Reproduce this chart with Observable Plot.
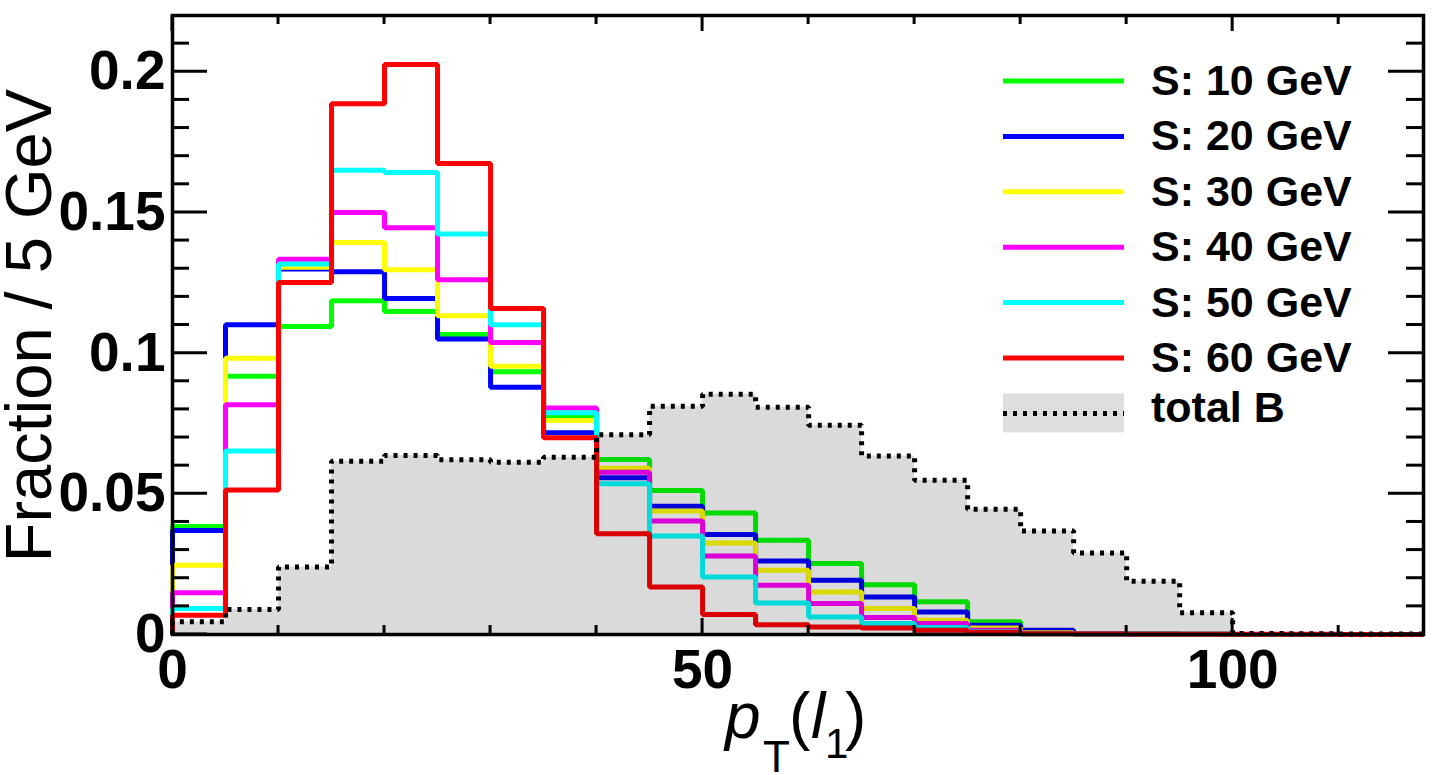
<!DOCTYPE html>
<html>
<head>
<meta charset="utf-8">
<script src="https://cdn.jsdelivr.net/npm/d3@7"></script>
<script src="https://cdn.jsdelivr.net/npm/@observablehq/plot@0.6"></script>
<style>
  html, body { margin: 0; padding: 0; background: #fff; }
  svg { display: block; }
</style>
</head>
<body>
<div id="chart"></div>
<script>
// ---- data (fraction per 5 GeV bin, bins start at these edges) ----
const binEdges = [0,5,10,15,20,25,30,35,40,45,50,55,60,65,70,75,80,85,90,95,100,105,110,115];
const xMax = 118;
const seriesNames = ["S: 10 GeV","S: 20 GeV","S: 30 GeV","S: 40 GeV","S: 50 GeV","S: 60 GeV"];
const seriesColors = ["#00ff00","#0000ff","#ffff00","#ff00ff","#00ffff","#ff0000"];
const s10 = [0.0384,0.0918,0.1095,0.1186,0.1148,0.1066,0.0934,0.0775,0.0622,0.0512,0.0432,0.0335,0.0252,0.0177,0.0116,0.0045,0.0014,0.0004,0.0002,0.0001,0,0,0,0];
const s20 = [0.0370,0.1101,0.1299,0.1289,0.1194,0.1050,0.0879,0.0717,0.0557,0.0456,0.0355,0.0261,0.0193,0.0133,0.0080,0.0033,0.0015,0.0004,0.0002,0.0001,0,0,0,0];
const s30 = [0.0246,0.0982,0.1305,0.1393,0.1296,0.1133,0.0953,0.0761,0.0591,0.0439,0.0325,0.0228,0.0151,0.0092,0.0051,0.0023,0.0006,0.0002,0.0001,0,0,0,0,0];
const s40 = [0.0148,0.0817,0.1334,0.1500,0.1446,0.1261,0.1038,0.0805,0.0577,0.0403,0.0279,0.0175,0.0110,0.0060,0.0039,0.0015,0.0004,0.0001,0,0,0,0,0,0];
const s50 = [0.0092,0.0652,0.1317,0.1650,0.1642,0.1423,0.1101,0.0788,0.0536,0.0350,0.0204,0.0112,0.0062,0.0039,0.0025,0.0010,0.0003,0.0001,0,0,0,0,0,0];
const s60 = [0.0068,0.0514,0.1251,0.1886,0.2026,0.1674,0.1159,0.0699,0.0358,0.0169,0.0071,0.0035,0.0027,0.0023,0.0015,0.0008,0.0003,0.0002,0.0001,0.0001,0.0001,0.0001,0,0];
const totalB = [0.0045,0.0089,0.0240,0.0616,0.0636,0.0621,0.0612,0.0630,0.0710,0.0811,0.0854,0.0808,0.0744,0.0634,0.0548,0.0445,0.0368,0.0290,0.0189,0.0077,0.0004,0.0003,0.0002,0.0002];
const bName = "total B";

const yTicks = [0, 0.05, 0.1, 0.15, 0.2];
const yTickLabels = ["0", "0.05", "0.1", "0.15", "0.2"];
const yMinorTicks = [0.01,0.02,0.03,0.04,0.06,0.07,0.08,0.09,0.11,0.12,0.13,0.14,0.16,0.17,0.18,0.19,0.21];
const xTicks = [0, 50, 100];
const xTickLabels = ["0", "50", "100"];
const xMinorTicks = [10,20,30,40,60,70,80,90,110];
const yMax = 0.22;

// ---- build step tables ----
function steps(values, name) {
  const pts = [{x: 0, y: 0, series: name}];
  values.forEach((v, i) => pts.push({x: binEdges[i], y: v, series: name}));
  pts.push({x: xMax, y: values[values.length - 1], series: name});
  return pts;
}
const allSignals = [s10, s20, s30, s40, s50, s60];
const sigData = allSignals.flatMap((vals, i) => steps(vals, seriesNames[i]));
const bData = steps(totalB, bName);

const FONT = "'Liberation Sans', Arial, Helvetica, sans-serif";

const plot = Plot.plot({
  width: 1438,
  height: 775,
  marginLeft: 172,
  marginRight: 15,
  marginTop: 15,
  marginBottom: 141,
  style: {fontFamily: FONT, background: "#fff", color: "#000"},
  x: {domain: [0, xMax], axis: null},
  y: {domain: [0, yMax], axis: null},
  color: {domain: seriesNames, range: seriesColors},
  marks: [
    Plot.line(sigData, {x: "x", y: "y", z: "series", stroke: "series", curve: "step-after",
      strokeWidth: 5, strokeLinejoin: "miter", strokeLinecap: "butt"}),
    Plot.areaY(bData, {x: "x", y: "y", curve: "step-after", fill: "#000", fillOpacity: 0.145}),
    Plot.line(bData, {x: "x", y: "y", curve: "step-after", stroke: "#000", strokeWidth: 5,
      strokeDasharray: "4,6", strokeLinejoin: "miter", strokeLinecap: "butt"}),
    Plot.frame({stroke: "#000", strokeWidth: 3.5}),
    Plot.axisY(yTicks, {anchor: "left", tickSize: 0, tickPadding: 7, label: null,
      tickFormat: d => yTickLabels[yTicks.indexOf(d)], fontSize: 55, fontWeight: "bold"}),
    Plot.axisX(xTicks, {anchor: "bottom", tickSize: 0, tickPadding: 14, label: null,
      tickFormat: d => xTickLabels[xTicks.indexOf(d)], fontSize: 55, fontWeight: "bold"})
  ]
});

document.getElementById("chart").appendChild(plot);

// ---- ROOT-style inward ticks, titles and legend ----
const svg = d3.select(plot);
const X = plot.scale("x"), Y = plot.scale("y");
const xl = X.apply(0), xr = X.apply(xMax), yb = Y.apply(0), yt = Y.apply(yMax);
const g = svg.append("g").attr("stroke", "#000").attr("stroke-width", 3);

function yTick(v, len) {
  const y = Y.apply(v);
  g.append("line").attr("x1", xl).attr("x2", xl + len).attr("y1", y).attr("y2", y);
  g.append("line").attr("x1", xr).attr("x2", xr - len).attr("y1", y).attr("y2", y);
}
function xTick(v, len) {
  const x = X.apply(v);
  g.append("line").attr("x1", x).attr("x2", x).attr("y1", yb).attr("y2", yb - len);
  g.append("line").attr("x1", x).attr("x2", x).attr("y1", yt).attr("y2", yt + len);
}
yTicks.forEach(v => yTick(v, 35));
yMinorTicks.forEach(v => yTick(v, 17));
xTicks.forEach(v => xTick(v, 16));
xMinorTicks.forEach(v => xTick(v, 9));

// y title
svg.append("text")
  .attr("transform", "translate(51,89) rotate(-90)")
  .attr("text-anchor", "end")
  .attr("font-family", FONT)
  .attr("font-size", 65)
  .attr("fill", "#000")
  .text("Fraction / 5 GeV");

// x title: p_T(l_1)
const xt = svg.append("text").attr("font-family", FONT).attr("fill", "#000").attr("text-anchor", "start");
xt.append("tspan").attr("x", 725).attr("y", 738).attr("font-size", 64).attr("font-style", "italic").text("p");
xt.append("tspan").attr("x", 763).attr("y", 772).attr("font-size", 44).text("T");
xt.append("tspan").attr("x", 789).attr("y", 738).attr("font-size", 64).text("(");
xt.append("tspan").attr("x", 811).attr("y", 738).attr("font-size", 64).attr("font-style", "italic").text("l");
xt.append("tspan").attr("x", 825).attr("y", 758).attr("font-size", 42).text("1");
xt.append("tspan").attr("x", 845).attr("y", 738).attr("font-size", 64).text(")");

// legend
const lg = svg.append("g").attr("text-anchor", "start");
const rowY = i => 81 + i * 55.4;
seriesNames.forEach((name, i) => {
  lg.append("line").attr("x1", 1003).attr("x2", 1124).attr("y1", rowY(i)).attr("y2", rowY(i))
    .attr("stroke", seriesColors[i]).attr("stroke-width", 5);
  lg.append("text").attr("x", 1151).attr("y", rowY(i) + 14).attr("text-anchor", "start")
    .attr("font-family", FONT).attr("font-size", 43).attr("font-weight", "bold").attr("fill", "#000")
    .text(name);
});
const by = rowY(6);
lg.append("rect").attr("x", 1003).attr("y", by - 20).attr("width", 121).attr("height", 39)
  .attr("fill", "#000").attr("fill-opacity", 0.13);
lg.append("line").attr("x1", 1003).attr("x2", 1124).attr("y1", by).attr("y2", by)
  .attr("stroke", "#000").attr("stroke-width", 5).attr("stroke-dasharray", "4,6");
lg.append("text").attr("x", 1151).attr("y", by + 9).attr("text-anchor", "start")
  .attr("font-family", FONT).attr("font-size", 43).attr("font-weight", "bold").attr("fill", "#000")
  .text(bName);
</script>
</body>
</html>
